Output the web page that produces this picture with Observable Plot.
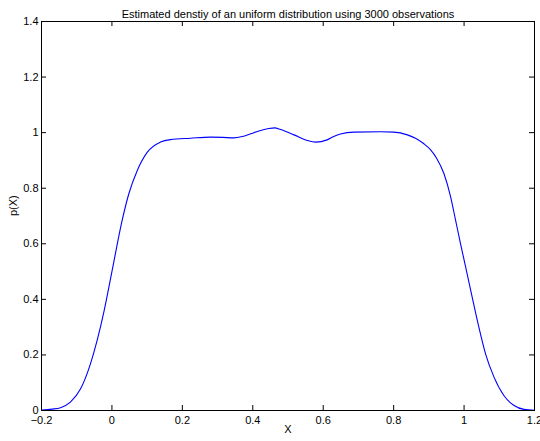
<!DOCTYPE html>
<html>
<head>
<meta charset="utf-8">
<script src="https://cdn.jsdelivr.net/npm/d3@7"></script>
<script src="https://cdn.jsdelivr.net/npm/@observablehq/plot@0.6"></script>
<style>
  html, body { margin: 0; padding: 0; background: #fff; }
  svg { display: block; }
</style>
</head>
<body>
<div id="chart"></div>
<script>
const title = "Estimated denstiy of an uniform distribution using 3000 observations";
const xLabel = "X";
const yLabel = "p(X)";
const xTicks = [-0.2, 0, 0.2, 0.4, 0.6, 0.8, 1, 1.2];
const yTicks = [0, 0.2, 0.4, 0.6, 0.8, 1, 1.2, 1.4];

const xs = [-0.2, -0.17, -0.146, -0.118, -0.089, -0.061, -0.042, -0.023, 0.0, 0.029, 0.048, 0.072, 0.100, 0.138, 0.166, 0.223, 0.280, 0.315, 0.346, 0.370, 0.394, 0.420, 0.446, 0.462, 0.479, 0.517, 0.555, 0.578, 0.611, 0.630, 0.649, 0.687, 0.763, 0.801, 0.839, 0.862, 0.886, 0.905, 0.922, 0.943, 0.962, 0.976, 0.990, 1.009, 1.023, 1.042, 1.061, 1.085, 1.113, 1.142, 1.17, 1.2];
const ys = [0.002, 0.005, 0.010, 0.030, 0.078, 0.168, 0.252, 0.354, 0.50, 0.684, 0.780, 0.864, 0.929, 0.966, 0.975, 0.980, 0.984, 0.983, 0.981, 0.986, 0.996, 1.007, 1.015, 1.017, 1.011, 0.992, 0.972, 0.966, 0.974, 0.986, 0.995, 1.002, 1.003, 1.002, 0.992, 0.980, 0.960, 0.938, 0.908, 0.852, 0.768, 0.684, 0.600, 0.49, 0.408, 0.300, 0.204, 0.120, 0.054, 0.018, 0.004, 0.001];

const data = xs.map((x, i) => ({x, y: ys[i]}));

const W = 540, H = 441;
const mL = 41, mR = 6, mT = 21, mB = 31;
const innerW = W - mL - mR, innerH = H - mT - mB;
const tk = 5;
const fmt = d => d < 0 ? "\u2212" + String(Math.abs(d)) : String(d);

const chart = Plot.plot({
  width: W,
  height: H,
  marginLeft: mL,
  marginRight: mR,
  marginTop: mT,
  marginBottom: mB,
  style: {fontFamily: "'Liberation Sans', Arial, Helvetica, sans-serif", fontSize: "11px", color: "#000", background: "#fff"},
  x: {domain: [-0.2, 1.2], ticks: xTicks, label: null},
  y: {domain: [0, 1.4], ticks: yTicks, label: null},
  marks: [
    Plot.axisX({ticks: xTicks, tickSize: 0, tickPadding: 6, label: null, fontSize: 11, tickFormat: fmt}),
    Plot.axisY({ticks: yTicks, tickSize: 0, tickPadding: 3, label: null, fontSize: 11, tickFormat: fmt}),
    Plot.tickX(xTicks, {x: d => d, insetTop: innerH - tk, stroke: "#000"}),
    Plot.tickX(xTicks, {x: d => d, insetBottom: innerH - tk, stroke: "#000"}),
    Plot.tickY(yTicks, {y: d => d, insetRight: innerW - tk, stroke: "#000"}),
    Plot.tickY(yTicks, {y: d => d, insetLeft: innerW - tk, stroke: "#000"}),
    Plot.line(data, {x: "x", y: "y", stroke: "#0000ff", strokeWidth: 1.1, curve: "monotone-x"}),
    Plot.frame({stroke: "#000", strokeWidth: 1}),
    Plot.text([title], {frameAnchor: "top", dy: -11, fontSize: 11, fill: "#000"}),
    Plot.text([xLabel], {frameAnchor: "bottom", dy: 22, fontSize: 11, fill: "#000"}),
    Plot.text([yLabel], {frameAnchor: "left", dx: -28, rotate: -90, fontSize: 11, fill: "#000"})
  ]
});
document.getElementById("chart").appendChild(chart);
</script>
</body>
</html>
